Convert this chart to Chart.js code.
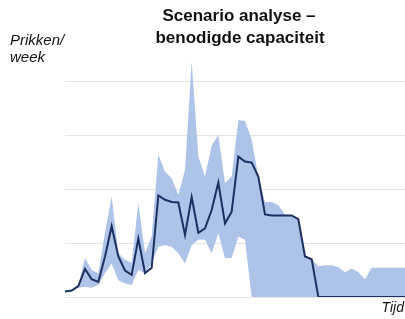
<!DOCTYPE html>
<html>
<head>
<meta charset="utf-8">
<script src="https://cdn.jsdelivr.net/npm/chart.js@4"></script>
<style>
  html, body { margin: 0; padding: 0; background: #fff; }
  #wrap { width: 405px; height: 319px; }
</style>
</head>
<body>
<div id="wrap"><canvas id="scenarioChart" width="405" height="319"></canvas></div>
<script>
// weken (geen labels zichtbaar op de as)
const weeks = Array.from({ length: 52 }, (_, i) => 'w' + (i + 1));

// benodigde capaciteit (middenscenario)
const middle = [0.10, 0.12, 0.20, 0.52, 0.33, 0.28, 0.75, 1.31, 0.75, 0.49,
                0.41, 1.08, 0.44, 0.54, 1.88, 1.80, 1.76, 1.75, 1.15, 1.85,
                1.19, 1.27, 1.61, 2.12, 1.36, 1.58, 2.60, 2.51, 2.49, 2.23,
                1.53, 1.51, 1.51, 1.51, 1.51, 1.44, 0.75, 0.70, 0, 0,
                0, 0, 0, 0, 0, 0, 0, 0, 0, 0,
                0, 0];

// bovengrens van de bandbreedte
const upper = [0.10, 0.13, 0.22, 0.72, 0.50, 0.44, 1.19, 1.86, 0.81, 0.69,
               0.63, 1.75, 0.81, 1.12, 2.64, 2.32, 2.20, 1.89, 2.35, 4.36,
               2.60, 2.23, 2.80, 3.00, 2.11, 2.23, 3.28, 3.26, 2.91, 2.23,
               1.76, 1.76, 1.70, 1.53, 1.51, 1.44, 0.75, 0.70, 0.57, 0.59,
               0.59, 0.55, 0.46, 0.53, 0.46, 0.33, 0.54, 0.54, 0.54, 0.54,
               0.54, 0.54];

// ondergrens van de bandbreedte
const lower = [0.10, 0.10, 0.17, 0.19, 0.17, 0.22, 0.44, 0.62, 0.31, 0.25,
               0.22, 0.50, 0.44, 0.62, 0.93, 0.96, 0.93, 0.81, 0.62, 0.96,
               1.06, 1.06, 0.81, 1.18, 0.72, 0.72, 1.12, 1.06, 0, 0,
               0, 0, 0, 0, 0, 0, 0, 0, 0, 0,
               0, 0, 0, 0, 0, 0, 0, 0, 0, 0,
               0, 0];

const titleLines = ['Scenario analyse \u2013', 'benodigde capaciteit'];
const yLabelLines = ['Prikken/', 'week'];
const xLabel = 'Tijd';

// teksten rond de grafiek
const labelsPlugin = {
    id: 'labels',
    afterDraw(chart) {
        const ctx = chart.ctx;
        ctx.save();
        ctx.fillStyle = '#111';
        ctx.textBaseline = 'alphabetic';

        ctx.font = 'bold 17px "Liberation Sans", Arial, sans-serif';
        ctx.textAlign = 'center';
        ctx.fillText(titleLines[0], 239, 21);
        ctx.fillText(titleLines[1], 240, 43);

        ctx.font = 'italic 15px "Liberation Sans", Arial, sans-serif';
        ctx.textAlign = 'left';
        ctx.fillText(yLabelLines[0], 10, 45);
        ctx.fillText(yLabelLines[1], 10, 62);

        ctx.font = 'italic 14px "Liberation Sans", Arial, sans-serif';
        ctx.textAlign = 'right';
        ctx.fillText(xLabel, 404, 312);
        ctx.restore();
    }
};

const ctx = document.getElementById('scenarioChart').getContext('2d');

new Chart(ctx, {
    type: 'line',
    data: {
        labels: weeks,
        datasets: [
            {
                label: 'ondergrens',
                data: lower,
                borderWidth: 0,
                borderColor: 'transparent',
                pointRadius: 0,
                fill: false,
                order: 3
            },
            {
                label: 'bovengrens',
                data: upper,
                borderWidth: 0,
                borderColor: 'transparent',
                backgroundColor: '#adc3e8',
                pointRadius: 0,
                fill: '-1',
                order: 2
            },
            {
                label: 'midden',
                data: middle,
                borderColor: '#1d2f5f',
                borderWidth: 2,
                pointRadius: 0,
                fill: false,
                order: 1
            }
        ]
    },
    options: {
        responsive: false,
        animation: false,
        layout: {
            padding: { left: 65, right: 0, top: 54, bottom: 22 }
        },
        elements: { line: { tension: 0 } },
        plugins: {
            legend: { display: false },
            tooltip: { enabled: false },
            title: { display: false }
        },
        scales: {
            x: {
                display: false
            },
            y: {
                min: 0,
                max: 4.5,
                ticks: { display: false, stepSize: 0.5 },
                grid: {
                    drawTicks: false,
                    // alleen hele waarden krijgen een lijn
                    color: (c) => (c.tick && Number.isInteger(c.tick.value)) ? '#e4e4e4' : 'transparent',
                    lineWidth: 1
                },
                border: { display: false }
            }
        }
    },
    plugins: [labelsPlugin]
});
</script>
</body>
</html>
